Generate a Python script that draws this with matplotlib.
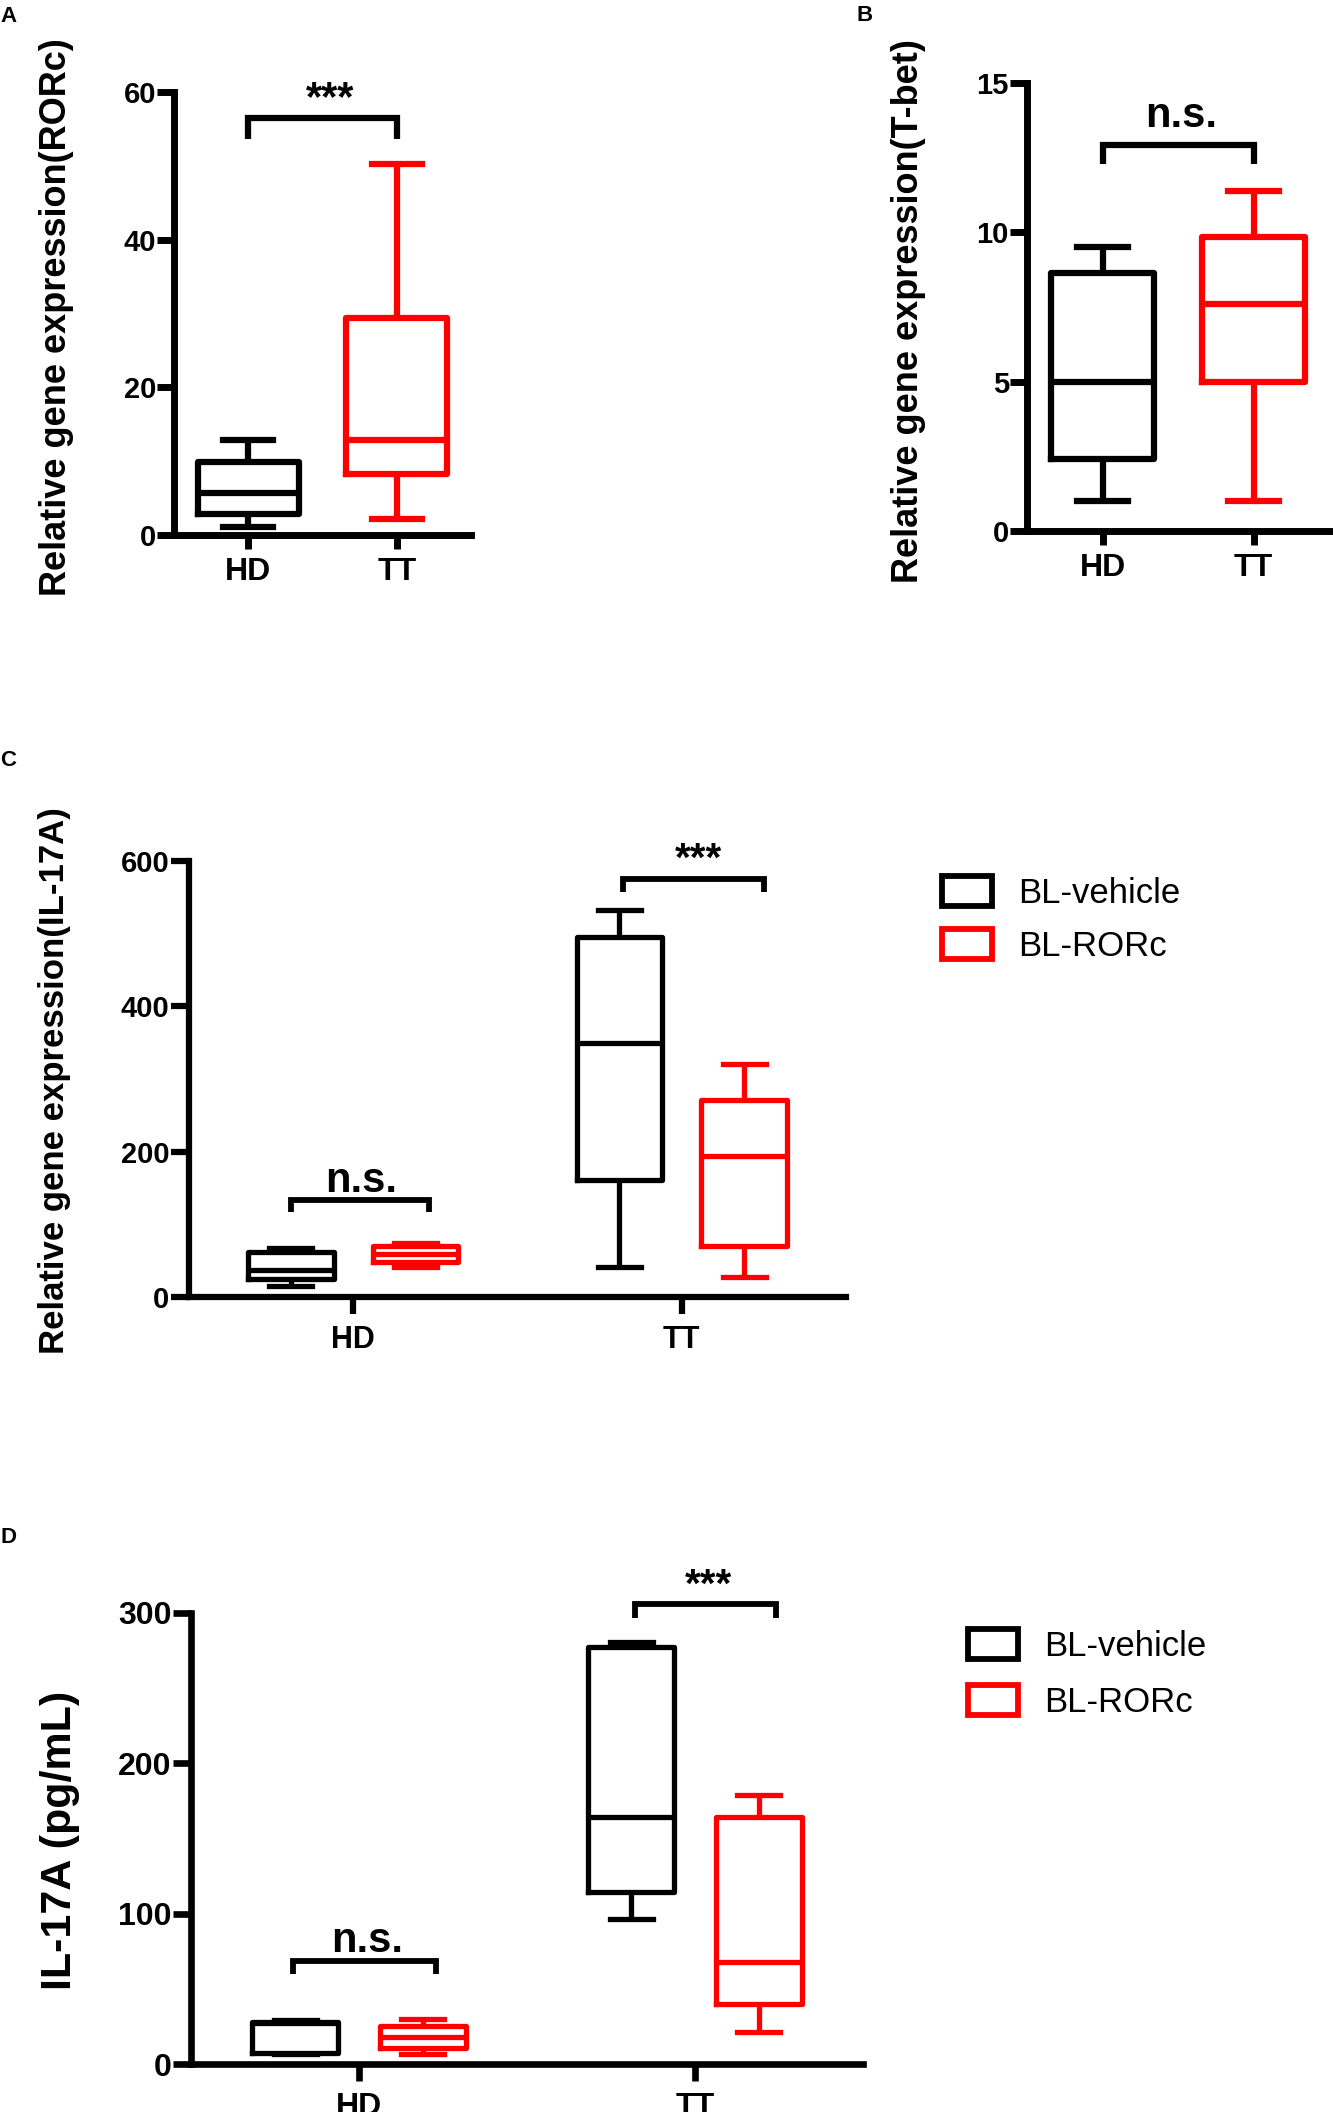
import matplotlib
matplotlib.use('Agg')
import matplotlib.pyplot as plt
from matplotlib.patches import Patch

plt.rcParams['font.family'] = ['Liberation Sans', 'DejaVu Sans']
plt.rcParams['font.weight'] = 'bold'

# ---------------- data ----------------
groups = ['HD', 'TT']
series_labels = ['BL-vehicle', 'BL-RORc']
# five-number summaries: [min, q1, median, q3, max]
rorc_hd = [1.1, 2.8, 5.7, 9.9, 12.8]
rorc_tt = [2.1, 8.3, 12.8, 29.4, 50.3]
tbet_hd = [1.0, 2.4, 5.0, 8.65, 9.5]
tbet_tt = [1.0, 5.0, 7.6, 9.85, 11.4]
il17_gene_vehicle = [[15.5, 25, 36.7, 61.5, 67], [41, 161, 349, 495, 532]]
il17_gene_rorc = [[41.7, 48, 59, 70, 75], [27, 70, 194, 271, 321]]
il17_pg_vehicle = [[6.5, 7.3, 27, 28, 29], [96.6, 114.3, 164.4, 277.4, 280.5]]
il17_pg_rorc = [[6.4, 10.4, 18, 25.1, 29.7], [21.6, 40, 68, 164.4, 178.7]]

yticks_a = [0, 20, 40, 60]
yticks_b = [0, 5, 10, 15]
yticks_c = [0, 200, 400, 600]
yticks_d = [0, 100, 200, 300]

BLACK = '#000000'
RED = '#FF0000'

W, H = 1333, 2112
fig = plt.figure(figsize=(W / 100, H / 100), dpi=100)


def ax_at(l, t, r, b):
    return fig.add_axes([l / W, 1 - b / H, (r - l) / W, (b - t) / H])


def style(ax, yticks, spine_lw, tick_fs, xtick_fs, ylen, xlen, xpad):
    for s in ['top', 'right']:
        ax.spines[s].set_visible(False)
    for s in ['left', 'bottom']:
        ax.spines[s].set_linewidth(spine_lw)
        ax.spines[s].set_capstyle('projecting')
    ax.set_xlim(-0.5, 1.5)
    ax.set_ylim(yticks[0], yticks[-1])
    ax.set_yticks(yticks)
    ax.set_xticks(range(len(groups)))
    ax.set_xticklabels(groups)
    ax.tick_params(axis='y', direction='out', length=ylen, width=spine_lw,
                   labelsize=tick_fs, pad=1)
    ax.tick_params(axis='x', direction='out', length=xlen, width=spine_lw,
                   labelsize=xtick_fs, pad=xpad)
    for lab in ax.get_xticklabels() + ax.get_yticklabels():
        lab.set_fontweight('bold')
    ax.patch.set_alpha(0)


def draw_box(ax, s, pos, width, color, lw):
    st = dict(whislo=s[0], q1=s[1], med=s[2], q3=s[3], whishi=s[4], fliers=[])
    props = dict(color=color, linewidth=lw, solid_capstyle='butt')
    ax.bxp([st], positions=[pos], widths=width, capwidths=width / 2,
           showfliers=False, manage_ticks=False,
           boxprops=dict(color=color, linewidth=lw),
           whiskerprops=props, capprops=dict(color=color, linewidth=lw),
           medianprops=dict(color=color, linewidth=lw))


def bracket(ax, x0, x1, ytop, ybot, text, ytext, xtext, fs, lw):
    ax.plot([x0, x0, x1, x1], [ybot, ytop, ytop, ybot], color=BLACK, lw=lw,
            clip_on=False, solid_joinstyle='miter', solid_capstyle='butt')
    ax.text(xtext, ytext, text, ha='center', va='center', fontsize=fs,
            fontweight='bold', clip_on=False)


def legend(x, y, spacing):
    handles = [Patch(facecolor='white', edgecolor=BLACK, linewidth=4.2, label=series_labels[0]),
               Patch(facecolor='white', edgecolor=RED, linewidth=4.2, label=series_labels[1])]
    fig.legend(handles=handles, loc='upper left', bbox_to_anchor=(x / W, 1 - y / H),
               frameon=False, prop=dict(family='Liberation Sans', weight='normal', size=25),
               handlelength=1.45, handleheight=0.95, handletextpad=0.75,
               labelspacing=spacing, borderpad=0, borderaxespad=0)


# ---------------- Panel A ----------------
axA = ax_at(174, 92, 471, 535)
style(axA, yticks_a, 5.0, 21, 23, 12, 10, 6)
draw_box(axA, rorc_hd, 0, 0.68, BLACK, 4.5)
draw_box(axA, rorc_tt, 1, 0.68, RED, 4.5)
bracket(axA, 0.0, 1.0, 56.5, 53.7, '***', 59.0, 0.55, 30, 4.5)
fig.text(57 / W, 1 - 317 / H, 'Relative gene expression(RORc)', rotation=90,
         ha='center', va='center', fontsize=26, fontweight='bold')
fig.text(0 / W, 1 - 6 / H, 'A', ha='left', va='top', fontsize=16, fontweight='bold')

# ---------------- Panel B ----------------
axB = ax_at(1027, 83, 1329, 531)
style(axB, yticks_b, 5.0, 21, 23, 12, 10, 6)
draw_box(axB, tbet_hd, 0, 0.68, BLACK, 4.5)
draw_box(axB, tbet_tt, 1, 0.68, RED, 4.5)
bracket(axB, 0.0, 1.0, 12.94, 12.3, 'n.s.', 13.9, 0.52, 30, 4.5)
fig.text(909 / W, 1 - 311 / H, 'Relative gene expression(T-bet)', rotation=90,
         ha='center', va='center', fontsize=26, fontweight='bold')
fig.text(857 / W, 1 - 5 / H, 'B', ha='left', va='top', fontsize=16, fontweight='bold')

# ---------------- Panel C ----------------
axC = ax_at(189, 861, 846, 1297)
style(axC, yticks_c, 4.5, 21, 22, 13, 12, 8)
for gi in range(len(groups)):
    draw_box(axC, il17_gene_vehicle[gi], gi - 0.19, 0.26, BLACK, 3.8)
    draw_box(axC, il17_gene_rorc[gi], gi + 0.19, 0.26, RED, 3.8)
bracket(axC, -0.19, 0.23, 133.7, 117, 'n.s.', 160, 0.025, 30, 4.2)
bracket(axC, 0.82, 1.25, 575.8, 558, '***', 602, 1.05, 29, 4.2)
fig.text(55 / W, 1 - 1081 / H, 'Relative gene expression(IL-17A)', rotation=90,
         ha='center', va='center', fontsize=25, fontweight='bold')
fig.text(0 / W, 1 - 750 / H, 'C', ha='left', va='top', fontsize=16, fontweight='bold')
legend(942, 876, 0.56)

# ---------------- Panel D ----------------
axD = ax_at(191, 1613, 863, 2064)
style(axD, yticks_d, 4.8, 23, 23, 13, 12, 8)
for gi in range(len(groups)):
    draw_box(axD, il17_pg_vehicle[gi], gi - 0.19, 0.255, BLACK, 3.8)
    draw_box(axD, il17_pg_rorc[gi], gi + 0.19, 0.255, RED, 3.8)
bracket(axD, -0.196, 0.228, 68.8, 59.7, 'n.s.', 82, 0.024, 30, 4.2)
bracket(axD, 0.82, 1.24, 305.7, 297, '***', 318, 1.04, 29, 4.2)
fig.text(60 / W, 1 - 1840 / H, 'IL-17A (pg/mL)', rotation=90,
         ha='center', va='center', fontsize=31, fontweight='bold')
fig.text(0 / W, 1 - 1527 / H, 'D', ha='left', va='top', fontsize=16, fontweight='bold')
legend(968, 1629, 0.64)

fig.savefig('out.png', dpi=100, facecolor='white')
